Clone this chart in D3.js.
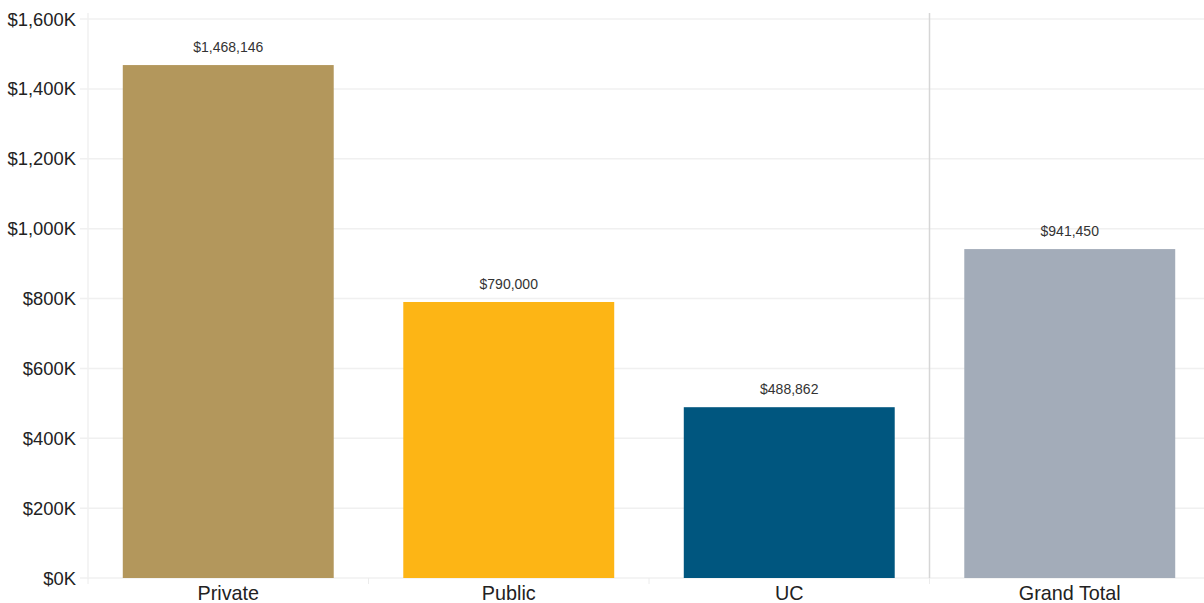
<!DOCTYPE html>
<html><head><meta charset="utf-8">
<script src="https://cdn.jsdelivr.net/npm/d3@7"></script>
<style>body{margin:0;background:#fff;}svg{display:block;font-family:"Liberation Sans",Arial,sans-serif;}</style>
</head><body><svg id="c" width="1204" height="603"></svg>
<script>
const categories = ["Private", "Public", "UC", "Grand Total"];
const values = [1468146, 790000, 488862, 941450];
const colors = ["#b3975c", "#fdb515", "#00567f", "#a3acb9"];
const yTicks = [0, 200000, 400000, 600000, 800000, 1000000, 1200000, 1400000, 1600000];

(function () {
const svg = d3.select("#c");
const mLeft = 88, mRight = 1204, mTop = 19, mBottom = 578;
const x = d3.scaleBand().domain(categories).range([mLeft, 1210]).paddingInner(0).paddingOuter(0);
const y = d3.scaleLinear().domain([0, 1600000]).range([mBottom, mTop]);

// gridlines
svg.append("g").selectAll("line").data(yTicks).join("line")
  .attr("x1", 80).attr("x2", mRight).attr("y1", d => y(d)).attr("y2", d => y(d))
  .attr("stroke", "#f0f0f0").attr("stroke-width", 1.5);
// left axis line
svg.append("line").attr("x1", mLeft).attr("x2", mLeft).attr("y1", 13).attr("y2", mBottom)
  .attr("stroke", "#f0f0f0").attr("stroke-width", 1.5);
// bottom ticks
const tickXs = [mLeft].concat(categories.slice(1).map(c => x(c)));
svg.append("g").selectAll("line").data(tickXs).join("line")
  .attr("x1", d => d).attr("x2", d => d)
  .attr("y1", mBottom).attr("y2", mBottom + 6).attr("stroke", "#ececec");

// separator before grand total
svg.append("line").attr("x1", x("Grand Total")).attr("x2", x("Grand Total"))
  .attr("y1", 13).attr("y2", mBottom).attr("stroke", "#d6d6d6").attr("stroke-width", 1.5);

// bars
const bw = x.bandwidth() * 0.752;
svg.append("g").selectAll("rect").data(categories).join("rect")
  .attr("x", d => x(d) + (x.bandwidth() - bw) / 2)
  .attr("width", bw)
  .attr("y", (d,i) => y(values[i]))
  .attr("height", (d,i) => mBottom - y(values[i]))
  .attr("fill", (d,i) => colors[i]);

// value labels
const fmt = d3.format("$,");
svg.append("g").selectAll("text").data(categories).join("text")
  .attr("x", d => x(d) + x.bandwidth() / 2)
  .attr("y", (d,i) => y(values[i]) - 13)
  .attr("text-anchor", "middle").attr("font-size", 14).attr("fill", "#333")
  .text((d,i) => fmt(values[i]));

// y axis labels
svg.append("g").selectAll("text").data(yTicks).join("text")
  .attr("x", 76).attr("y", d => y(d)).attr("dy", "0.36em")
  .attr("text-anchor", "end").attr("font-size", 18.4).attr("fill", "#222")
  .text(d => "$" + d3.format(",")(d / 1000) + "K");

// x labels
svg.append("g").selectAll("text").data(categories).join("text")
  .attr("x", d => x(d) + x.bandwidth() / 2)
  .attr("y", 600)
  .attr("text-anchor", "middle").attr("font-size", 19.8).attr("fill", "#222")
  .text(d => d);
})();
</script></body></html>
